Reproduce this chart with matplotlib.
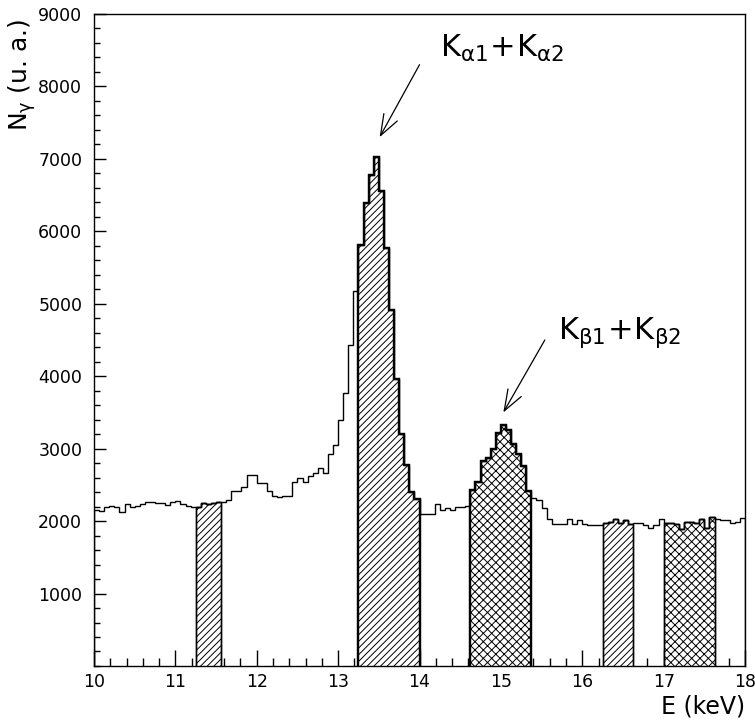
# ── IMPORTS ──────────────────────────────────────────────
import numpy as np
import matplotlib
matplotlib.use("Agg")
import matplotlib.pyplot as plt
from matplotlib.ticker import MultipleLocator

# ── DATA ─────────────────────────────────────────────────
# energy range of the histogram (keV), 128 bins of 0.0625 keV
e_min, e_max = 10.0, 18.0
counts = [
    2150, 2140, 2200, 2210, 2190, 2120, 2240, 2200, 2215, 2235,
    2270, 2260, 2245, 2245, 2225, 2260, 2280, 2235, 2210, 2190,
    2200, 2245, 2230, 2245, 2260, 2270, 2290, 2410, 2410, 2465,
    2630, 2640, 2530, 2530, 2410, 2350, 2330, 2340, 2345, 2540,
    2590, 2540, 2620, 2660, 2730, 2670, 2930, 3050, 3390, 3770,
    4430, 5170, 5810, 6385, 6780, 7030, 6550, 5770, 4910, 3965,
    3205, 2780, 2400, 2300, 2100, 2095, 2100, 2235, 2155, 2180,
    2160, 2200, 2200, 2215, 2430, 2536, 2835, 2875, 3000, 3210,
    3320, 3255, 3060, 2920, 2760, 2415, 2315, 2295, 2180, 2030,
    1955, 1965, 1965, 2030, 1960, 2020, 1955, 1945, 1945, 1950,
    1980, 1990, 2035, 1970, 2015, 1960, 1975, 1975, 1940, 1910,
    1940, 2030, 1975, 1970, 1965, 1885, 1985, 1990, 1975, 2030,
    1910, 2060, 2035, 2020, 2010, 1975, 1990, 2045,
]

# shaded windows (keV): simple hatch = K-alpha + its side bands, cross = K-beta
alpha_bands = [(11.25, 11.5625), (13.25, 14.0), (16.25, 16.625)]
beta_bands = [(14.625, 15.375), (17.0, 17.625)]
peak_bands = [(13.25, 14.0), (14.625, 15.375)]

label_alpha = r"$\mathregular{K_{\alpha 1}\!+\!K_{\alpha 2}}$"
label_beta = r"$\mathregular{K_{\beta 1}\!+\!K_{\beta 2}}$"
alpha_text_xy = (14.25, 8410)
alpha_arrow_from = (14.0, 8300)
alpha_arrow_to = (13.51, 7300)
beta_text_xy = (15.70, 4520)
beta_arrow_from = (15.54, 4500)
beta_arrow_to = (15.03, 3500)

# ── STEP 1: FIGURE ───────────────────────────────────────
plt.rcParams["hatch.linewidth"] = 0.7
plt.rcParams["mathtext.fontset"] = "dejavusans"

fig = plt.figure(figsize=(7.55, 7.25), dpi=100)
ax = fig.add_axes([0.1245, 0.0814, 0.8623, 0.8993])

counts = np.array(counts, dtype=float)
edges = np.linspace(e_min, e_max, len(counts) + 1)

# ── STEP 2: HISTOGRAM + SHADED WINDOWS ───────────────────
ax.stairs(counts, edges, color="black", linewidth=1.0, zorder=3)


def shade(lo, hi, hatch, lw):
    i0 = int(np.searchsorted(edges, lo - 1e-6))
    i1 = int(np.searchsorted(edges, hi - 1e-6))
    ax.stairs(counts[i0:i1], edges[i0:i1 + 1], fill=True, hatch=hatch,
              facecolor="white", edgecolor="black", linewidth=lw, zorder=2)
    ax.stairs(counts[i0:i1], edges[i0:i1 + 1], baseline=0, color="black",
              linewidth=lw, zorder=4)


for lo, hi in alpha_bands:
    shade(lo, hi, "/////", 1.6 if (lo, hi) in peak_bands else 1.0)
for lo, hi in beta_bands:
    shade(lo, hi, "xxxx", 1.6 if (lo, hi) in peak_bands else 1.0)

# ── STEP 3: AXES ─────────────────────────────────────────
ax.set_xlim(e_min, e_max)
ax.set_ylim(0, 9000)
ax.xaxis.set_major_locator(MultipleLocator(1))
ax.xaxis.set_minor_locator(MultipleLocator(0.2))
ax.yaxis.set_major_locator(MultipleLocator(1000))
ax.yaxis.set_minor_locator(MultipleLocator(200))
ax.set_yticks([1000 * k for k in range(1, 10)])
ax.set_xticks(range(10, 19))
ax.set_xticklabels([str(v) for v in range(10, 19)])

ax.tick_params(axis="both", which="both", direction="in", top=False,
               right=False, labelsize=12.5, width=1.0)
ax.tick_params(axis="x", which="major", length=11.5, pad=5)
ax.tick_params(axis="x", which="minor", length=5.8)
ax.tick_params(axis="y", which="major", length=8.6, pad=8.5)
ax.tick_params(axis="y", which="minor", length=4.3)
for s in ax.spines.values():
    s.set_linewidth(1.0)

fig.text(0.987, 0.025, "E (keV)", ha="right", va="center", fontsize=17)
fig.text(0.029, 0.897, r"$\mathregular{N_{\gamma}}$ (u. a.)", rotation=90,
         ha="center", va="center", fontsize=18)

# ── STEP 4: PEAK LABELS ──────────────────────────────────
arrow = dict(arrowstyle="->,head_length=1.5,head_width=0.55",
             color="black", linewidth=0.9, shrinkA=0, shrinkB=0)
ax.annotate("", xy=alpha_arrow_to, xytext=alpha_arrow_from, arrowprops=arrow)
ax.annotate("", xy=beta_arrow_to, xytext=beta_arrow_from, arrowprops=arrow)
ax.text(*alpha_text_xy, label_alpha, fontsize=22, ha="left", va="baseline")
ax.text(*beta_text_xy, label_beta, fontsize=22, ha="left", va="baseline")

plt.savefig("out.png", dpi=100)
